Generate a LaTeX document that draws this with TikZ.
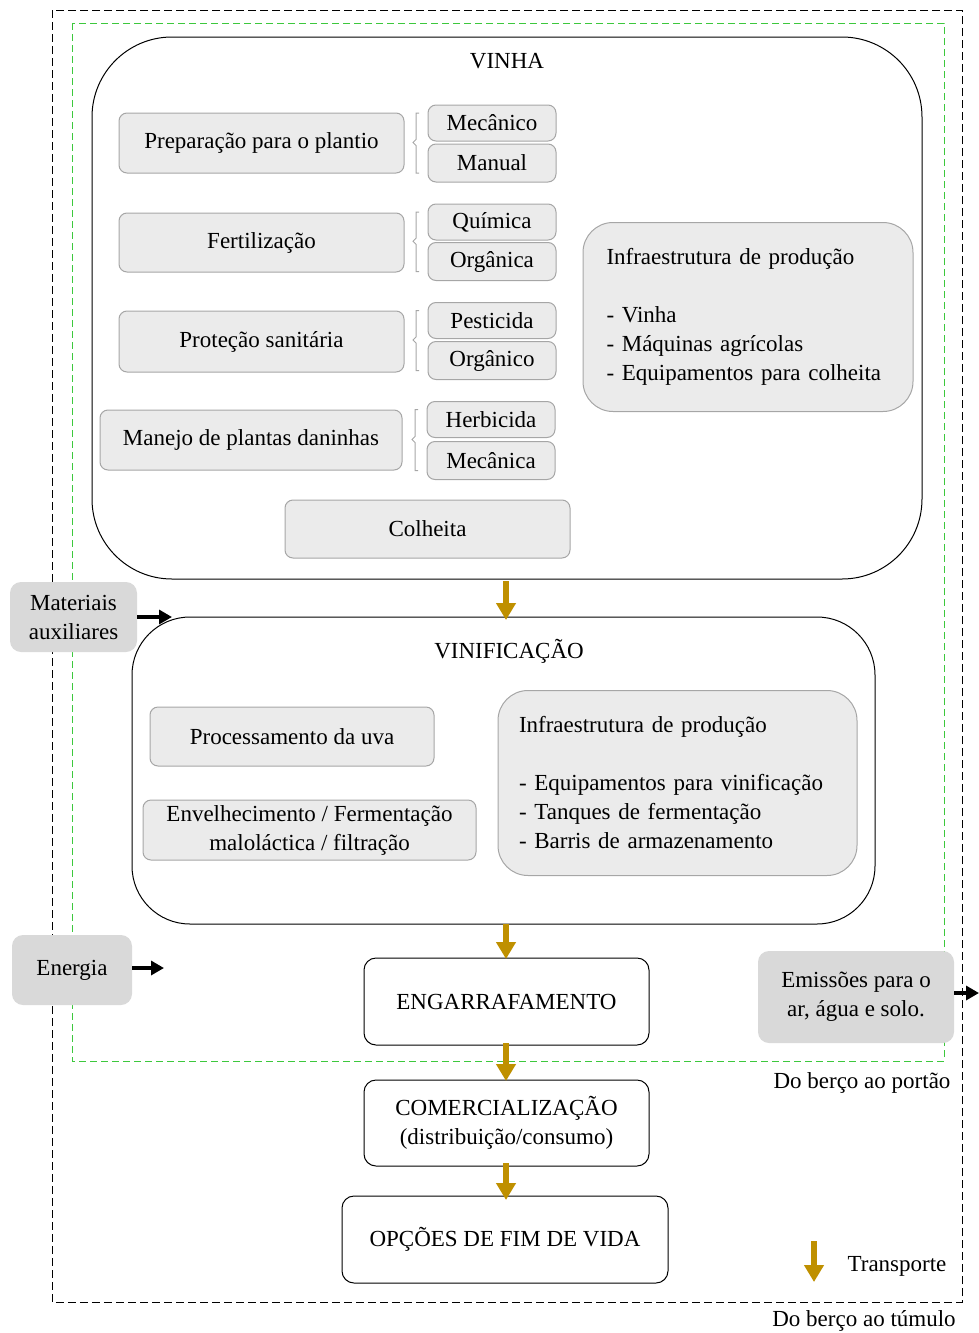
\documentclass[tikz,border=0pt]{standalone}
\usepackage{fontspec}
\setmainfont{Liberation Serif}
\usetikzlibrary{arrows.meta,calc}
\definecolor{goldc}{HTML}{BF9000}
\definecolor{boxfill}{HTML}{EBEBEB}
\definecolor{boxline}{HTML}{A6A6A6}
\definecolor{sidefill}{HTML}{D9D9D9}
\definecolor{frameg}{HTML}{3DC83D}
\begin{document}
\begin{tikzpicture}[x=1pt,y=-1pt,
  font=\fontsize{23}{29}\selectfont,
  every node/.style={inner sep=0pt,outer sep=0pt},
  graybox/.style={draw=boxline,fill=boxfill,line width=1pt,rounded corners=8pt},
  infobox/.style={draw=boxline,fill=boxfill,line width=1pt,rounded corners=30pt,align=left},
  sidebox/.style={fill=sidefill,rounded corners=11pt,align=center},
  stagebox/.style={draw=black,line width=1pt,rounded corners=12pt,align=center},
  bigbox/.style={draw=black,line width=1pt},
  flow/.style={draw=goldc,line width=6pt,-{Triangle[length=17pt,width=19pt]}},
  feed/.style={draw=black,line width=4.5pt,-{Triangle[length=13pt,width=14pt]}},
  bracket/.style={draw=boxline,line width=1pt}]
\useasboundingbox (0,0) rectangle (979,1333);

% system boundaries
\draw[dashed,line width=1pt,dash pattern=on 8pt off 4pt] (52,10) rectangle (962,1302);
\draw[frameg,line width=1pt,dash pattern=on 7pt off 4pt] (72,23) rectangle (944,1061);
\node (lblport) at (862,1083) {Do berço ao portão};
\node (lbltum) at (864,1321) {Do berço ao túmulo};

% vineyard stage
\node[bigbox,rounded corners=80pt,minimum width=830pt,minimum height=542pt] (vinha) at (507,308) {};
\node (vinhat) at (507,61) {VINHA};

\node[graybox,minimum width=285pt,minimum height=60pt] (prep) at (261.5,143) {Preparação para o plantio};
\node[graybox,minimum width=285pt,minimum height=59pt] (fert) at (261.5,242.5) {Fertilização};
\node[graybox,minimum width=285pt,minimum height=61pt] (prot) at (261.5,341.5) {Proteção sanitária};
\node[graybox,minimum width=302pt,minimum height=60pt] (manejo) at (251,440) {Manejo de plantas daninhas};
\node[graybox,minimum width=285pt,minimum height=58pt] (colh) at (427.5,529) {Colheita};

\node[graybox,minimum width=128pt,minimum height=36pt] (mecan) at (492,123) {Mecânico};
\node[graybox,minimum width=128pt,minimum height=38pt] (manual) at (492,163) {Manual};
\node[graybox,minimum width=128pt,minimum height=36pt] (quim) at (492,222) {Química};
\node[graybox,minimum width=128pt,minimum height=38pt] (organ) at (492,261.5) {Orgânica};
\node[graybox,minimum width=128pt,minimum height=36pt] (pest) at (492,320.5) {Pesticida};
\node[graybox,minimum width=128pt,minimum height=38pt] (orgo) at (492,360.5) {Orgânico};
\node[graybox,minimum width=128pt,minimum height=36pt] (herb) at (491,419.5) {Herbicida};
\node[graybox,minimum width=128pt,minimum height=38pt] (mecm) at (491,460.5) {Mecânica};

% brackets grouping the options
\foreach \top/\bot in {mecan/manual,quim/organ,pest/orgo,herb/mecm}{
  \draw[bracket] ($(\top.north west)+(-9,8)$) -- ($(\top.north west)+(-12,8)$)
    -- ($(\top.south west)!0.5!(\bot.north west)+(-12,-3)$)
    -- ($(\top.south west)!0.5!(\bot.north west)+(-15,0)$)
    -- ($(\top.south west)!0.5!(\bot.north west)+(-12,3)$)
    -- ($(\bot.south west)+(-12,-9)$) -- ($(\bot.south west)+(-9,-9)$);
}

\node[infobox,minimum width=330pt,minimum height=189pt,text width=283pt] (infra1) at (748,317)
  {Infraestrutura de produção\\[29pt]- Vinha\\- Máquinas agrícolas\\- Equipamentos para colheita};

% winemaking stage
\node[bigbox,rounded corners=58pt,minimum width=743pt,minimum height=307pt] (vinif) at (503.5,770.5) {};
\node (viniftt) at (509,651) {VINIFICAÇÃO};
\node[graybox,minimum width=284pt,minimum height=59pt] (proc) at (292,736.5) {Processamento da uva};
\node[graybox,minimum width=333pt,minimum height=60pt,align=center] (envel) at (309.5,830)
  {Envelhecimento / Fermentação\\maloláctica / filtração};
\node[infobox,minimum width=359pt,minimum height=185pt,text width=317pt] (infra2) at (677.5,783)
  {Infraestrutura de produção\\[29pt]- Equipamentos para vinificação\\- Tanques de fermentação\\- Barris de armazenamento};

% inputs and outputs
\node[sidebox,minimum width=127pt,minimum height=70pt] (mataux) at (73.5,617) {Materiais\\auxiliares};
\node[sidebox,minimum width=120pt,minimum height=70pt] (energ) at (72,970) {Energia};
\node[sidebox,minimum width=196pt,minimum height=92pt] (emiss) at (856,997) {Emissões para o\\ar, água e solo.};
\coordinate (matend) at (172,617);
\coordinate (enend) at (164,968);
\coordinate (emend) at (979,993);
\draw[feed] (mataux.east |- matend) -- (matend);
\draw[feed] (energ.east |- enend) -- (enend);
\draw[feed] (emiss.east |- emend) -- (emend);

% downstream stages
\node[stagebox,minimum width=285pt,minimum height=87pt] (engarr) at (506.5,1001.5) {ENGARRAFAMENTO};
\node[stagebox,minimum width=285pt,minimum height=86pt] (comerc) at (506.5,1123) {COMERCIALIZAÇÃO\\(distribuição/consumo)};
\node[stagebox,minimum width=326pt,minimum height=87pt] (fimvida) at (505,1239.5) {OPÇÕES DE FIM DE VIDA};

% transport flows
\draw[flow] ([yshift=-2pt]vinha.south -| 506,0) -- ([yshift=-3pt]vinif.north -| 506,0);
\draw[flow] (vinif.south -| 506,0) -- ([yshift=-1pt]engarr.north -| 506,0);
\draw[flow] ([yshift=2pt]engarr.south -| 506,0) -- ([yshift=-1pt]comerc.north -| 506,0);
\draw[flow] ([yshift=3pt]comerc.south -| 506,0) -- ([yshift=-4pt]fimvida.north -| 506,0);

% legend
\coordinate (legtop) at (814,1241);
\coordinate (legbot) at (814,1282);
\draw[flow] (legtop) -- (legbot);
\node (legtxt) at (897,1266) {Transporte};
\end{tikzpicture}
\end{document}
